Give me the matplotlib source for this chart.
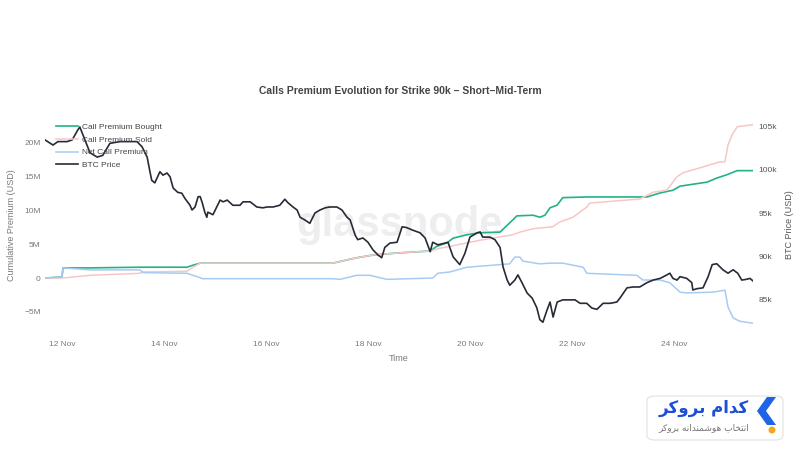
import pandas as pd
import matplotlib.pyplot as plt
import matplotlib.dates as mdates
from matplotlib.patches import FancyBboxPatch, Polygon, Ellipse

plt.rcParams["font.family"] = ["Liberation Sans", "DejaVu Sans"]

# time is given as days after 11 Nov 2025 00:00
base = pd.Timestamp("2025-11-11")

# BTC price (k USD), right axis
btc_days = [0.667, 0.824, 0.92, 1.10, 1.20, 1.31, 1.35, 1.55, 1.69, 1.80, 1.94, 2.14, 2.27,
            2.47, 2.57, 2.67, 2.73, 2.76, 2.82, 2.92, 2.98, 3.06, 3.12, 3.18, 3.27, 3.35,
            3.41, 3.51, 3.55, 3.61, 3.67, 3.71, 3.75, 3.80, 3.84, 3.86, 3.96, 4.10, 4.16,
            4.24, 4.35, 4.49, 4.55, 4.69, 4.82, 4.94, 5.02, 5.14, 5.27, 5.37, 5.43, 5.53,
            5.61, 5.67, 5.76, 5.86, 5.96, 6.06, 6.16, 6.25, 6.39, 6.49, 6.59, 6.65, 6.75,
            6.80, 6.90, 7.00, 7.10, 7.20, 7.27, 7.33, 7.43, 7.57, 7.67, 7.76, 7.88, 8.02,
            8.12, 8.22, 8.27, 8.37, 8.51, 8.57, 8.61, 8.67, 8.80, 8.90, 9.00, 9.14, 9.20,
            9.25, 9.39, 9.49, 9.59, 9.65, 9.73, 9.78, 9.88, 9.94, 10.02, 10.12, 10.22,
            10.31, 10.37, 10.43, 10.51, 10.57, 10.63, 10.71, 10.82, 10.96, 11.06, 11.16,
            11.29, 11.39, 11.49, 11.61, 11.75, 11.88, 11.94, 12.08, 12.20, 12.33, 12.47,
            12.59, 12.73, 12.86, 12.92, 12.98, 13.06, 13.12, 13.25, 13.35, 13.37, 13.45,
            13.57, 13.67, 13.75, 13.84, 13.96, 14.06, 14.16, 14.25, 14.33, 14.43, 14.49,
            14.55]
btc_price = [103.5, 102.9, 103.3, 103.3, 103.5, 104.65, 105.0, 102.0, 101.5, 101.7, 103.1,
             103.3, 103.3, 103.3, 102.7, 101.5, 99.65, 98.8, 98.5, 99.8, 99.4, 99.65, 99.2,
             97.9, 97.4, 97.3, 96.7, 95.9, 95.35, 95.7, 96.9, 96.9, 96.2, 95.1, 94.5, 95.1,
             94.8, 96.5, 96.3, 96.5, 95.9, 95.9, 96.3, 96.3, 95.7, 95.6, 95.7, 95.7, 95.9,
             96.6, 96.2, 95.7, 95.35, 94.5, 94.2, 93.8, 95.0, 95.35, 95.6, 95.7, 95.7,
             95.35, 94.5, 94.2, 92.4, 91.9, 92.1, 91.6, 90.7, 90.1, 89.8, 91.0, 91.5, 91.6,
             93.4, 93.3, 93.0, 92.7, 92.1, 90.5, 91.6, 91.3, 91.5, 91.6, 90.9, 89.9, 89.0,
             90.3, 92.2, 92.7, 92.8, 92.2, 92.2, 91.9, 91.0, 88.7, 87.2, 86.6, 87.2, 87.8,
             86.9, 85.7, 85.1, 84.0, 82.6, 82.3, 83.7, 84.65, 82.9, 84.65, 84.9, 84.9, 84.9,
             84.5, 84.5, 83.95, 83.8, 84.5, 84.5, 84.65, 85.1, 86.3, 86.4, 86.4, 86.9, 87.2,
             87.4, 87.8, 88.0, 87.4, 87.2, 87.6, 87.4, 86.9, 86.05, 86.2, 86.3, 87.6, 89.0,
             89.1, 88.4, 88.0, 88.4, 88.0, 87.2, 87.3, 87.4, 87.1]

# cumulative premiums (M USD), left axis
bought_days = [0.667, 1.0, 1.02, 1.55, 2.53, 3.45, 3.57, 3.71, 6.31, 6.78, 7.10, 7.57, 8.22,
               8.35, 8.55, 8.67, 8.94, 9.20, 9.59, 9.84, 9.92, 10.24, 10.37, 10.47, 10.57,
               10.71, 10.82, 11.29, 12.47, 12.73, 12.98, 13.12, 13.65, 13.84, 14.04, 14.24,
               14.55]
bought_vals = [0, 0.15, 1.5, 1.5, 1.6, 1.6, 1.9, 2.2, 2.2, 3.0, 3.4, 3.7, 4.0, 4.7, 5.2, 5.9,
               6.4, 6.7, 6.8, 8.6, 9.2, 9.3, 9.0, 9.3, 10.4, 10.8, 11.9, 12.0, 12.0, 12.6,
               13.0, 13.6, 14.2, 14.8, 15.3, 15.9, 15.9]

sold_days = [0.667, 1.02, 1.55, 2.53, 2.59, 3.45, 3.57, 3.71, 6.31, 6.78, 7.10, 7.57, 8.22,
             8.41, 8.61, 8.94, 9.20, 9.59, 9.84, 9.98, 10.24, 10.37, 10.63, 10.76, 11.02,
             11.29, 11.35, 12.33, 12.59, 12.86, 13.06, 13.18, 13.37, 13.90, 14.0, 14.06,
             14.14, 14.24, 14.35, 14.55]
sold_vals = [0, 0, 0.4, 0.7, 0.9, 1.0, 1.6, 2.2, 2.2, 3.0, 3.4, 3.7, 4.0, 4.4, 4.7, 5.2, 5.6,
             6.1, 6.4, 6.8, 7.3, 7.4, 7.6, 8.3, 9.0, 10.5, 11.1, 11.7, 12.7, 13.0, 15.0, 15.6,
             16.0, 17.2, 17.2, 19.7, 21.2, 22.4, 22.5, 22.7]

net_days = [0.667, 1.0, 1.02, 1.55, 2.53, 2.59, 3.45, 3.57, 3.65, 3.76, 6.31, 6.45, 6.78,
            7.04, 7.37, 8.27, 8.37, 8.61, 8.94, 9.45, 9.78, 9.88, 9.98, 10.04, 10.37, 10.57,
            10.82, 11.22, 11.29, 12.27, 12.39, 12.73, 12.92, 13.12, 13.25, 13.76, 14.0,
            14.06, 14.16, 14.29, 14.55]
net_vals = [0, 0.15, 1.5, 1.2, 1.2, 0.8, 0.7, 0.4, 0.2, -0.1, -0.1, -0.2, 0.4, 0.4, -0.2, 0,
            0.7, 0.9, 1.6, 1.9, 2.1, 3.1, 3.1, 2.5, 2.1, 2.2, 2.2, 1.6, 0.7, 0.4, -0.3, -0.3,
            -0.7, -2.1, -2.2, -2.1, -1.8, -4.3, -5.9, -6.4, -6.7]

left_ticks = [-5, 0, 5, 10, 15, 20]
left_labels = ["\u22125M", "0", "5M", "10M", "15M", "20M"]
right_ticks = [85, 90, 95, 100, 105]
right_labels = ["85k", "90k", "95k", "100k", "105k"]


def to_time(days):
    return base + pd.to_timedelta(days, unit="D")


def px(x, y):
    # pixel position (from top left) -> figure fraction
    return (x / 800, 1 - y / 450)


fig = plt.figure(figsize=(8, 4.5), dpi=100)
ax = fig.add_axes([45 / 800, 1 - 328 / 450, 708 / 800, 206 / 450])
ax2 = ax.twinx()

ax.plot(to_time(bought_days), bought_vals, color="#22b287", lw=1.2, label="Call Premium Bought")
ax.plot(to_time(sold_days), sold_vals, color="#f8c6c6", lw=1.1, label="Call Premium Sold")
ax.plot(to_time(net_days), net_vals, color="#a7cbf2", lw=1.1, label="Net Call Premium")
ax2.plot(to_time(btc_days), btc_price, color="#272b36", lw=1.2, label="BTC Price")

ax.set_xlim(to_time(0.667), to_time(14.55))
ax.set_ylim(-7.4, 23.1)
ax2.set_ylim(81.63, 105.58)

gray = "#7a7a7a"
ax.set_yticks(left_ticks)
ax.set_yticklabels(left_labels)
ax2.set_yticks(right_ticks)
ax2.set_yticklabels(right_labels)
ax.tick_params(axis="y", length=0, pad=3, labelsize=6, labelcolor=gray)
ax2.tick_params(axis="y", length=0, pad=4, labelsize=6, labelcolor="#555555")
ax.xaxis.set_major_locator(mdates.DayLocator(bymonthday=[12, 14, 16, 18, 20, 22, 24]))
ax.xaxis.set_major_formatter(mdates.DateFormatter("%d Nov"))
ax.tick_params(axis="x", length=0, pad=9, labelsize=6, labelcolor=gray)

for a in (ax, ax2):
    for s in a.spines.values():
        s.set_visible(False)

ax.set_xlabel("Time", fontsize=6.5, color=gray, labelpad=5)
ax.set_ylabel("Cumulative Premium (USD)", fontsize=6.5, color=gray, labelpad=6)
ax2.set_ylabel("BTC Price (USD)", fontsize=6.5, color="#555555", labelpad=6)

fig.text(0.5, 1 - 91 / 450, "Calls Premium Evolution for Strike 90k \u2013 Short\u2013Mid-Term",
         ha="center", va="center", fontsize=7.5, fontweight="bold", color="#444444")

# watermark
ax.text(0.5, 0.5, "glassnode", transform=ax.transAxes, ha="center", va="center",
        fontsize=30, fontweight="bold", color="#eeeeee", zorder=0)

h1, l1 = ax.get_legend_handles_labels()
h2, l2 = ax2.get_legend_handles_labels()
ax2.legend(h1 + h2, l1 + l2, loc="upper left", bbox_to_anchor=px(56, 123),
           bbox_transform=fig.transFigure, frameon=False, fontsize=6, labelcolor="#444444",
           handlelength=2.6, handletextpad=0.5, labelspacing=0.6, borderpad=0,
           borderaxespad=0)

# broker logo, bottom right
box = FancyBboxPatch(px(647, 440), 136 / 800, 44 / 450,
                     boxstyle="round,pad=0,rounding_size=0.01", transform=fig.transFigure,
                     facecolor="white", edgecolor="#e2e2e2", lw=0.8)
fig.patches.append(box)
chev_pts = [(767, 397), (776, 397), (766, 411), (776, 425), (767, 425), (757, 411)]
fig.patches.append(Polygon([px(x, y) for x, y in chev_pts], closed=True,
                           facecolor="#1f63e6", edgecolor="none", transform=fig.transFigure))
fig.patches.append(Ellipse(px(772, 430), 7 / 800, 7 / 450, transform=fig.transFigure,
                           facecolor="#f6a623", edgecolor="none"))
# Persian text written with presentation forms so letters join
name = "\uFEAE\uFB90\uFEED\uFEAE\uFE91 \uFEE1\uFE8D\uFEAA\uFB90"
slogan = ("\uFEAE\uFB90\uFEED\uFEAE\uFE91 \uFEEA\uFEE7\uFE8D\uFEAA\uFEE8\uFEE4\uFEB7\uFEEE\uFEEB "
          "\uFE8F\uFE8E\uFEA8\uFE98\uFEE7\uFE8D")
fig.text(749 / 800, 1 - 408 / 450, name, ha="right", va="center", fontsize=12,
         fontweight="bold", color="#1d4fd6", family=["DejaVu Sans"])
fig.text(749 / 800, 1 - 428 / 450, slogan, ha="right", va="center", fontsize=6.5,
         color="#777777", family=["DejaVu Sans"])

fig.savefig("out.png", dpi=100)
